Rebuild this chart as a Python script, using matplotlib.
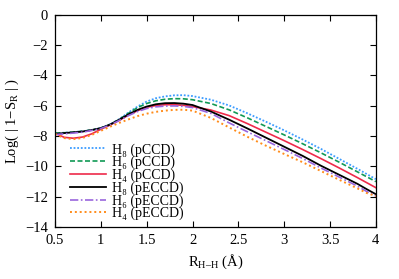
import matplotlib
matplotlib.use("Agg")
import matplotlib.pyplot as plt
from matplotlib.ticker import FuncFormatter

plt.rcParams['font.family'] = ['Liberation Serif', 'DejaVu Serif']
plt.rcParams['mathtext.fontset'] = 'custom'
plt.rcParams['mathtext.rm'] = 'Liberation Serif'
plt.rcParams['mathtext.it'] = 'Liberation Serif:italic'
plt.rcParams['axes.unicode_minus'] = True

r = [0.5, 0.6, 0.7, 0.8, 0.9, 1.0, 1.1, 1.2, 1.3, 1.4, 1.5, 1.6, 1.7, 1.8, 1.9,
     2.0, 2.2, 2.4, 2.6, 2.8, 3.0, 3.2, 3.4, 3.6, 3.8, 3.9, 4.0]

h8_pccd = [-7.8, -7.78, -7.74, -7.68, -7.6, -7.46, -7.22, -6.88, -6.45, -6.05, -5.72,
           -5.5, -5.38, -5.31, -5.3, -5.36, -5.6, -5.98, -6.5, -7.05, -7.62, -8.22,
           -8.84, -9.5, -10.16, -10.5, -10.84]
h6_pccd = [-7.8, -7.78, -7.74, -7.68, -7.6, -7.47, -7.24, -6.9, -6.5, -6.12, -5.85,
           -5.67, -5.57, -5.53, -5.54, -5.6, -5.85, -6.27, -6.8, -7.36, -7.92, -8.5,
           -9.1, -9.72, -10.36, -10.68, -11.0]
h4_pccd = [-7.82, -8.08, -8.14, -8.06, -7.85, -7.55, -7.27, -6.96, -6.62, -6.32, -6.1,
           -5.98, -5.93, -5.93, -5.97, -6.05, -6.28, -6.65, -7.18, -7.74, -8.3, -8.88,
           -9.48, -10.1, -10.74, -11.07, -11.4]
h8_peccd = [-7.85, -7.8, -7.75, -7.7, -7.6, -7.47, -7.24, -6.92, -6.57, -6.27, -6.05,
            -5.9, -5.83, -5.82, -5.86, -5.95, -6.38, -6.92, -7.5, -8.1, -8.7, -9.3,
            -9.95, -10.55, -11.15, -11.5, -11.83]
h6_peccd = [-7.9, -7.85, -7.8, -7.74, -7.63, -7.5, -7.27, -6.97, -6.65, -6.38, -6.18,
            -6.07, -6.02, -6.01, -6.04, -6.12, -6.5, -7.13, -7.72, -8.3, -8.88, -9.47,
            -10.1, -10.7, -11.3, -11.65, -11.95]
h4_peccd = [-7.85, -8.13, -8.2, -8.12, -7.92, -7.65, -7.38, -7.13, -6.9, -6.68, -6.52,
            -6.4, -6.32, -6.27, -6.26, -6.32, -6.8, -7.43, -8.05, -8.63, -9.18, -9.72,
            -10.3, -10.88, -11.45, -11.75, -11.95]

labels = ['H\u2088 (pCCD)', 'H\u2086 (pCCD)', 'H\u2084 (pCCD)',
          'H\u2088 (pECCD)', 'H\u2086 (pECCD)', 'H\u2084 (pECCD)']
x_ticks = [0.5, 1, 1.5, 2, 2.5, 3, 3.5, 4]
y_ticks = [0, -2, -4, -6, -8, -10, -12, -14]

fig = plt.figure(figsize=(3.99, 2.79), dpi=100)
ax = fig.add_axes([0.138, 0.186, 0.804, 0.761])

series = [h8_pccd, h6_pccd, h4_pccd, h8_peccd, h6_peccd, h4_peccd]
colors = ['#3c9cff', '#119955', '#ee2a4a', '#000000', '#9966dd', '#ff8c1a']
styles = [(0, (1, 1)), (0, (3, 1.5)), '-', '-', (0, (5, 1.5, 1, 1.5)), (0, (1, 1.5))]
widths = [1.3, 1.2, 1.2, 1.3, 1.2, 1.4]

for ys, c, ls, lw, lab in zip(series, colors, styles, widths, labels):
    ax.plot(r, ys, color=c, linestyle=ls, linewidth=lw, label=lab)

ax.set_xlim(0.5, 4)
ax.set_ylim(-14, 0)
ax.set_xticks(x_ticks)
ax.set_yticks(y_ticks)
ax.xaxis.set_major_formatter(FuncFormatter(lambda v, p: ('%g' % v)))
ax.yaxis.set_major_formatter(FuncFormatter(lambda v, p: ('%g' % v).replace('-', '\u2212')))
ax.tick_params(direction='in', top=True, right=True, length=4, width=0.8,
               labelsize=10.5, pad=5)
for s in ax.spines.values():
    s.set_linewidth(0.9)

ax.set_xlabel('R$_{\\mathrm{H\u2013H}}$ (\u00c5)', fontsize=10.5, labelpad=4)
ax.set_ylabel('Log( | 1\u2212S$_{\\mathrm{R}}$ | )', fontsize=10.5, labelpad=3)

leg = ax.legend(loc='lower left', bbox_to_anchor=(0.02, -0.008), frameon=False,
                fontsize=10, handlelength=2.6, handletextpad=0.45, labelspacing=-0.05,
                borderpad=0.1)

fig.savefig('out.png', dpi=100)
